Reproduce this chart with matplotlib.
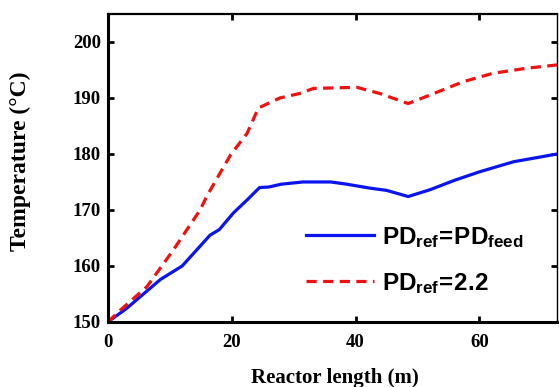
import matplotlib
matplotlib.use("Agg")
import matplotlib.pyplot as plt

plt.rcParams['mathtext.fontset'] = 'custom'
plt.rcParams['mathtext.rm'] = 'Liberation Sans:bold'
plt.rcParams['mathtext.bf'] = 'Liberation Sans:bold'
plt.rcParams['mathtext.it'] = 'Liberation Sans:bold'

# data
x_feed = [0, 3, 8.5, 12, 16.5, 18, 20.3, 22.5, 24.5, 26, 28, 31.5, 36, 38.6,
          42.3, 45, 48.5, 52, 56, 60, 65.5, 72.6]
y_feed = [150, 152.4, 157.6, 160, 165.5, 166.5, 169.5, 171.8, 174, 174.1, 174.6,
          175, 175, 174.6, 173.9, 173.5, 172.4, 173.6, 175.3, 176.8, 178.6, 180]
x_22 = [0, 2, 6.3, 10.6, 14.9, 16, 19.8, 22.5, 24.3, 27.8, 31, 33.2, 40.2, 43.9,
        48.5, 52, 57.4, 62.2, 67.6, 72.6]
y_22 = [150, 152.1, 156.3, 162.9, 170, 172.5, 179.8, 183.7, 188.2, 190, 190.8,
        191.7, 191.9, 190.8, 189, 190.5, 192.9, 194.4, 195.3, 195.9]
labels = [r'$\mathrm{PD_{ref}\!=\!PD_{feed}}$', r'$\mathrm{PD_{ref}\!=\!2.2}$']
xticks = [0, 20, 40, 60]
yticks = [150, 160, 170, 180, 190, 200]

fig = plt.figure(figsize=(5.59, 3.87), dpi=100)
ax = fig.add_axes([0.193, 0.168, 0.804, 0.796])

ax.plot(x_feed, y_feed, color='#0a14f0', lw=2.3, label=labels[0])
ax.plot(x_22, y_22, color='#f01010', lw=2.3, ls=(0, (3.2, 2.0)), label=labels[1])

ax.set_xlim(0, 72.6)
ax.set_ylim(150, 205)
ax.set_xticks(xticks)
ax.set_yticks(yticks)

tfont = dict(family='Liberation Serif', weight='bold', size=13.5)
ax.set_xticklabels([str(t) for t in xticks], **tfont)
ax.set_yticklabels([str(t) for t in yticks], **tfont)
ax.tick_params(axis='both', direction='in', length=4, width=2,
               top=True, right=True)
ax.tick_params(axis='x', pad=9)
ax.tick_params(axis='y', pad=5)

ax.spines['left'].set_linewidth(2.2)
ax.spines['bottom'].set_linewidth(2.2)
ax.spines['top'].set_linewidth(1.6)
ax.spines['right'].set_linewidth(1.0)

ax.set_xlabel('Reactor length (m)', family='Liberation Serif', weight='bold',
              size=15)
ax.set_ylabel('Temperature (\u00b0C)', family='Liberation Serif', weight='bold',
              size=17)
ax.xaxis.set_label_coords(0.505, -0.15)
ax.yaxis.set_label_coords(-0.17, 0.523)

leg = ax.legend(loc='lower right', bbox_to_anchor=(0.973, 0.014), frameon=False,
                fontsize=17.5, handlelength=2.8, handletextpad=0.3,
                labelspacing=0.88)

fig.savefig('out.png', dpi=100)
